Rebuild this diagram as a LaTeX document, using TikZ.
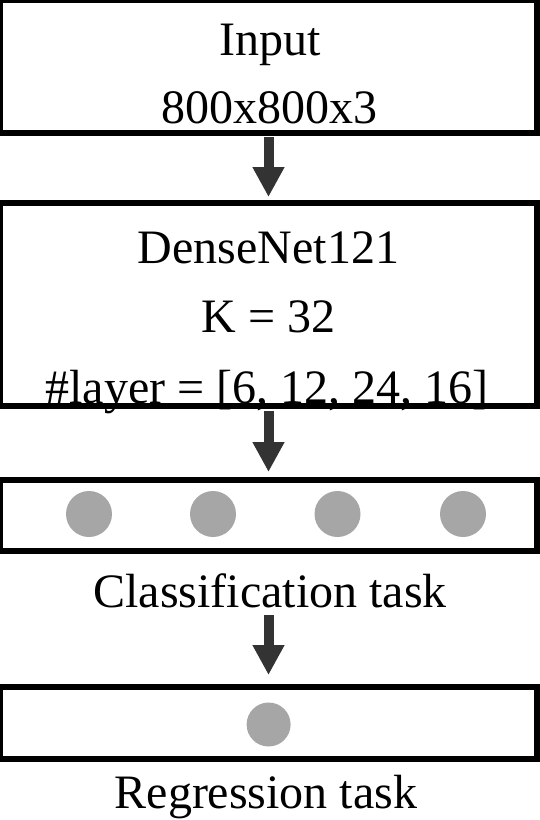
\documentclass[tikz,border=0pt]{standalone}
\usepackage{fontspec}
\setmainfont{Liberation Serif}
\usetikzlibrary{arrows.meta}
\definecolor{arrowgray}{HTML}{333333}
\definecolor{dotgray}{HTML}{A6A6A6}
\tikzset{
  blockbox/.style={draw=black, line width=6pt, rectangle, inner sep=0pt, outer sep=0pt, minimum width=537pt},
  label48/.style={anchor=base, inner sep=0pt, outer sep=0pt, font=\fontsize{48}{58}\selectfont},
  dot/.style={circle, fill=dotgray, draw=none, inner sep=0pt, minimum size=46pt},
  flowarrow/.style={draw=arrowgray, line width=10pt, -{Triangle[width=30pt,length=30pt]}, arrowgray}
}
\begin{document}
\begin{tikzpicture}[x=1pt,y=-1pt]
\useasboundingbox (0,0) rectangle (540,820);
% boxes
\node[blockbox, minimum height=133pt] (inbox) at (268.5,66.5) {};
\node[blockbox, minimum height=203pt] (dnbox) at (268.5,304.5) {};
\node[blockbox, minimum height=71pt] (clbox) at (268.5,515) {};
\node[blockbox, minimum height=71.5pt] (rgbox) at (268.5,722.75) {};
% texts
\node[label48] (t1) at (270,55) {Input};
\node[label48] (t2) at (269,123) {800x800x3};
\node[label48] (t3) at (268.5,263) {DenseNet121};
\node[label48] (t4) at (268.5,332) {K = 32};
\node[label48] (t5) at (267,403) {\#layer = [6, 12, 24, 16]};
\node[label48] (cltext) at (270,607) {Classification task};
\node[label48] (rgtext) at (266,808.5) {Regression task};
% dots
\node[dot] (c1) at (89,514) {};
\node[dot] (c2) at (213,514) {};
\node[dot] (c3) at (337.5,514) {};
\node[dot] (c4) at (463,514) {};
\node[dot, minimum size=44pt] (r1) at (268.6,724.5) {};
% arrows
\draw[flowarrow, shorten <=4pt, shorten >=6pt] (inbox.south) -- (dnbox.north);
\draw[flowarrow, shorten <=5pt, shorten >=7.5pt] (dnbox.south) -- (clbox.north);
\draw[flowarrow, shorten <=7.5pt, shorten >=12pt] (cltext.south -| rgbox.north) -- (rgbox.north);
\end{tikzpicture}
\end{document}
